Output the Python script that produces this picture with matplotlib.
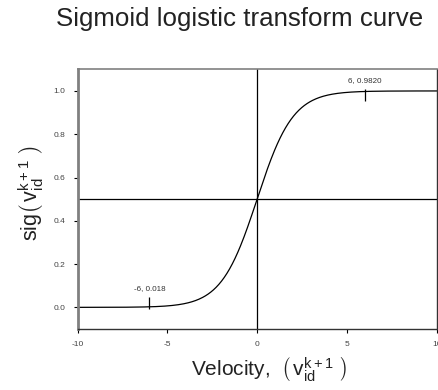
import numpy as np
import matplotlib
matplotlib.use("Agg")
import matplotlib.pyplot as plt

plt.rcParams['font.family'] = ['Liberation Sans', 'DejaVu Sans']
plt.rcParams['mathtext.fontset'] = 'custom'
plt.rcParams['mathtext.rm'] = 'Liberation Sans'
plt.rcParams['mathtext.it'] = 'Liberation Sans'

# Data
x_range = [-10, 10]
x_ticks = [-10, -5, 0, 5, 10]
y_ticks = [0.0, 0.2, 0.4, 0.6, 0.8, 1.0]
marked_x = [-6, 6]
marked_y = [0.018, 0.9820]
marked_labels = ["-6, 0.018", "6, 0.9820"]

xs = np.linspace(x_range[0], x_range[1], 400)
ys = 1.0 / (1.0 + np.exp(-xs))

fig = plt.figure(figsize=(4.38, 3.90), dpi=100)
L, R, T, B = 77.5, 436.7, 69.3, 329.0
W, H = R - L, B - T
ax = fig.add_axes([L/438, 1-B/390, W/438, H/390])

ax.plot(xs, ys, color='black', lw=0.9)
ax.axhline(0.5, color='black', lw=0.9)
ax.axvline(0, color='black', lw=0.9)
ax.plot(marked_x, marked_y, linestyle='none', marker='|', markersize=9,
        markeredgewidth=0.9, color='black')
for mx, my, lab in zip(marked_x, marked_y, marked_labels):
    ax.annotate(lab, (mx, my), xytext=(0, 8), textcoords='offset points',
                ha='center', va='bottom', fontsize=5.8, color='#333333')

ax.set_xlim(-10, 10)
ax.set_ylim(-0.1, 1.1)
ax.set_xticks(x_ticks)
ax.set_yticks(y_ticks)
ax.set_xticklabels([f"{t:d}" for t in x_ticks])
ax.set_yticklabels([f"{t:.1f}" for t in y_ticks])
ax.tick_params(axis='both', labelsize=6, labelcolor='#444444', length=3,
               width=0.8, direction='out', pad=6)

ax.spines['left'].set_color('#808080')
ax.spines['left'].set_linewidth(2.0)
ax.spines['top'].set_color('#808080')
ax.spines['top'].set_linewidth(1.2)
ax.spines['right'].set_color('#333333')
ax.spines['right'].set_linewidth(1.0)
ax.spines['bottom'].set_color('#333333')
ax.spines['bottom'].set_linewidth(1.0)

var_big = r'\left(\,\mathrm{v}_{\mathrm{id}}^{\mathrm{k+1}}\genfrac{}{}{0}{}{\ }{\ }\right)'
var_plain = r'\left(\mathrm{v}_{\mathrm{id}}^{\mathrm{k+1}}\right)'

def set_labels(var_tex):
    ax.set_xlabel(r'Velocity,  $' + var_tex + r'$', fontsize=15, color='#222222')
    ax.xaxis.set_label_coords((269 - L) / W, -(356 - B) / H)
    ax.set_ylabel(r'sig$' + var_tex + r'$', fontsize=15.5, color='#222222')
    ax.yaxis.set_label_coords((46 - L) / W, (B - 192.5) / H)

fig.text(240/438, 1-26/390, 'Sigmoid logistic transform curve',
         ha='center', va='baseline', fontsize=18.6, color='#222222')

try:
    set_labels(var_big)
    fig.canvas.draw()
except Exception:
    set_labels(var_plain)

fig.savefig('out.png', dpi=100)
